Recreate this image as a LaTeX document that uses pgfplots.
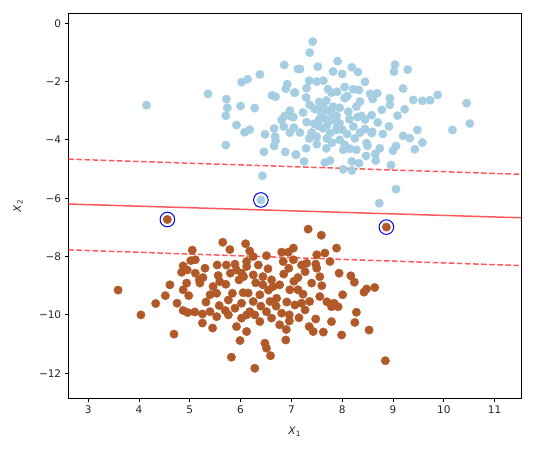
\documentclass[border=0pt]{standalone}
\usepackage{fontspec}
\setmainfont{DejaVu Sans}
\usepackage{pgfplots}
\pgfplotsset{compat=1.18}
\definecolor{lblue}{HTML}{A6CEE3}
\definecolor{lbrown}{HTML}{B15928}
\definecolor{svline}{HTML}{FF3B3B}
\pgfplotstableread{
x y
4.15 -2.81
5.36 -2.42
5.72 -2.60
5.74 -2.90
5.71 -3.17
6.00 -2.84
6.28 -2.91
6.02 -2.02
6.14 -1.92
6.38 -1.76
6.86 -1.43
7.13 -1.57
6.92 -2.09
6.89 -2.25
7.06 -2.38
6.62 -2.47
6.69 -2.52
5.92 -3.49
6.08 -3.74
6.18 -3.65
5.71 -4.18
6.48 -3.81
6.66 -3.61
6.68 -3.89
6.69 -4.03
6.66 -4.21
6.46 -4.41
6.88 -4.41
7.09 -4.50
6.81 -3.32
6.87 -3.18
6.97 -3.00
7.04 -3.22
6.85 -3.54
6.97 -3.75
7.17 -3.75
6.43 -5.23
6.40 -6.06
7.42 -0.63
7.36 -1.01
7.17 -1.57
7.52 -1.49
7.91 -1.30
7.82 -1.66
8.00 -1.74
8.19 -1.51
8.31 -1.67
9.04 -1.42
9.02 -1.66
9.29 -1.59
8.45 -2.01
7.35 -1.97
7.50 -2.00
7.63 -1.97
7.07 -2.38
7.30 -2.23
7.29 -2.55
7.79 -2.38
8.05 -2.19
8.22 -2.26
8.33 -2.29
8.55 -2.42
8.69 -2.40
9.20 -2.24
9.88 -2.46
9.73 -2.64
9.58 -2.66
9.40 -2.63
8.94 -2.57
8.94 -2.80
10.45 -2.74
10.51 -3.44
10.17 -3.66
9.23 -2.95
9.09 -3.17
8.78 -2.97
8.58 -3.15
8.38 -3.18
8.30 -3.22
8.12 -3.03
8.14 -3.29
7.69 -2.65
7.82 -2.86
7.69 -2.97
7.46 -2.94
7.23 -3.06
7.00 -3.20
7.05 -3.58
7.30 -3.39
7.53 -3.52
7.76 -3.34
7.89 -3.66
8.22 -3.54
8.45 -3.63
8.59 -3.72
8.92 -3.54
9.48 -3.66
9.20 -3.86
9.33 -3.94
9.58 -4.09
9.43 -4.32
9.06 -4.21
9.00 -4.37
8.74 -4.29
8.65 -4.48
8.47 -4.55
8.66 -4.71
8.28 -4.34
8.05 -4.17
8.02 -4.34
7.69 -4.29
7.29 -4.29
7.09 -4.51
7.25 -4.74
7.66 -4.78
7.76 -4.71
8.19 -4.74
8.33 -4.80
8.02 -5.01
8.19 -5.05
8.96 -4.86
9.06 -5.69
8.73 -6.17
7.50 -3.89
7.95 -4.00
8.48 -4.11
8.58 -3.77
7.59 -3.09
7.89 -3.18
7.95 -3.43
7.76 -3.77
8.28 -2.86
8.35 -2.69
8.05 -2.57
7.36 -2.80
7.72 -2.26
7.55 -2.70
7.62 -2.85
7.58 -3.00
7.65 -3.25
7.70 -3.50
7.62 -3.60
7.55 -3.30
7.45 -3.45
7.80 -3.10
7.85 -3.30
7.90 -3.55
8.00 -3.65
8.10 -3.80
7.70 -3.95
7.80 -4.10
8.25 -3.95
8.35 -3.75
7.40 -3.75
7.35 -3.95
8.15 -4.30
7.50 -4.15
7.95 -2.90
8.10 -2.50
7.90 -2.35
8.45 -3.30
8.60 -2.60
8.70 -3.40
8.80 -3.80
8.50 -4.20
}\blueset
\pgfplotstableread{
x y
4.56 -6.73
5.65 -7.51
5.79 -7.76
6.10 -7.56
5.05 -7.78
5.02 -8.14
5.11 -8.11
4.87 -8.32
4.95 -8.46
4.84 -8.54
5.11 -8.57
5.19 -8.80
5.26 -8.72
5.20 -8.91
4.94 -8.91
4.87 -9.14
4.98 -9.34
4.61 -8.97
4.52 -9.34
4.33 -9.61
4.04 -10.00
3.59 -9.15
4.87 -9.85
4.96 -9.92
4.69 -10.66
5.25 -9.97
5.25 -10.28
5.40 -9.89
5.53 -10.06
5.46 -9.03
5.40 -9.31
5.53 -9.26
5.58 -9.68
5.76 -9.49
5.84 -9.26
5.56 -8.65
5.71 -8.95
5.54 -8.29
5.72 -8.29
5.80 -8.57
5.92 -8.46
5.97 -8.80
6.05 -9.24
6.02 -9.60
5.89 -9.77
5.76 -10.00
5.92 -10.40
6.12 -10.00
6.12 -10.57
5.99 -10.88
5.82 -11.45
5.89 -8.26
6.12 -8.34
6.06 -8.69
5.59 -8.86
5.32 -9.56
7.33 -7.06
7.59 -7.27
8.87 -6.99
7.89 -7.71
7.66 -7.88
7.50 -7.94
7.04 -7.71
6.81 -7.85
6.94 -7.85
6.84 -8.17
7.04 -8.11
6.51 -7.97
6.18 -7.81
6.25 -8.00
6.12 -8.17
6.35 -8.29
6.54 -8.42
6.02 -8.57
6.25 -8.63
6.44 -8.69
6.61 -8.80
7.20 -8.29
7.30 -8.23
7.48 -8.26
7.50 -8.40
7.56 -8.69
7.27 -8.52
7.13 -8.72
7.40 -8.91
7.94 -8.57
8.17 -8.66
8.24 -8.88
8.43 -9.22
8.48 -9.11
8.64 -9.06
8.01 -9.31
7.84 -9.60
7.92 -9.72
7.79 -9.72
8.28 -9.91
8.25 -10.26
7.79 -10.23
7.48 -10.14
7.35 -10.40
7.43 -10.57
7.63 -10.59
7.99 -10.69
8.53 -10.52
8.85 -11.57
6.89 -10.86
6.48 -10.97
6.51 -11.14
6.59 -11.40
6.28 -11.83
6.77 -8.97
6.97 -9.14
7.13 -9.14
7.23 -9.29
7.56 -9.37
7.36 -9.54
7.20 -9.60
7.07 -9.66
6.91 -9.56
6.71 -9.43
6.58 -9.54
6.38 -9.31
6.25 -9.54
6.18 -9.89
6.28 -10.00
6.51 -9.89
6.61 -10.11
6.81 -9.94
6.96 -10.00
6.77 -10.34
6.96 -10.21
7.27 -9.83
6.02 -10.11
6.38 -10.23
7.76 -8.17
6.64 -9.03
6.44 -8.97
6.30 -8.90
6.55 -9.15
6.85 -8.60
6.95 -8.40
7.05 -8.85
6.70 -9.70
6.40 -9.70
7.60 -9.00
7.70 -9.55
5.70 -9.85
6.90 -10.50
7.15 -10.10
6.15 -9.25
5.30 -8.40
4.75 -9.60
5.10 -9.90
5.45 -10.45
}\brownset
\pgfplotstableread{
x y
6.40 -6.06
4.56 -6.73
8.87 -6.99
}\svset
\begin{document}
\begin{tikzpicture}
\useasboundingbox (-68.3pt,-50.7pt) rectangle (465.7pt,398.3pt);
\begin{axis}[
  at={(0pt,0pt)}, anchor=south west,
  scale only axis, width=452.7pt, height=385pt,
  xmin=2.61, xmax=11.52, ymin=-12.86, ymax=0.34,
  xtick={3,4,5,6,7,8,9,10,11},
  xticklabels={3,4,5,6,7,8,9,10,11},
  ytick={-12,-10,-8,-6,-4,-2,0},
  yticklabels={−12,−10,−8,−6,−4,−2,0},
  tick align=outside, tick pos=left,
  major tick length=3.6pt,
  every tick/.style={black, line width=0.8pt},
  axis line style={black, line width=0.8pt},
  tick label style={font=\fontsize{10.5}{12}\selectfont, text=black!85},
  label style={font=\fontsize{10.5}{12}\selectfont, text=black!85},
  xlabel={\textit{X}\textsubscript{1}},
  ylabel={\textit{X}\textsubscript{2}},
  xlabel style={at={(axis description cs:0.5,-0.0875)}, anchor=center},
  ylabel style={at={(axis description cs:-0.111,0.5)}, anchor=center},
  clip=true,
]
\addplot[only marks, mark=*, mark size=4.2pt, color=lblue, mark options={draw=lblue, fill=lblue}] table {\blueset};
\addplot[only marks, mark=*, mark size=4.2pt, color=lbrown, mark options={draw=lbrown, fill=lbrown}] table {\brownset};
\addplot[svline, line width=1.5pt, opacity=0.85] coordinates {(2.61,-6.20) (11.52,-6.67)};
\addplot[svline, line width=1.5pt, opacity=0.85, dash pattern=on 5.5pt off 2.6pt] coordinates {(2.61,-4.66) (11.52,-5.18)};
\addplot[svline, line width=1.5pt, opacity=0.85, dash pattern=on 5.5pt off 2.6pt] coordinates {(2.61,-7.77) (11.52,-8.31)};
\addplot[only marks, mark=o, mark size=7.3pt, mark options={draw=blue, line width=1pt, fill=none}] table {\svset};
\end{axis}
\end{tikzpicture}
\end{document}
